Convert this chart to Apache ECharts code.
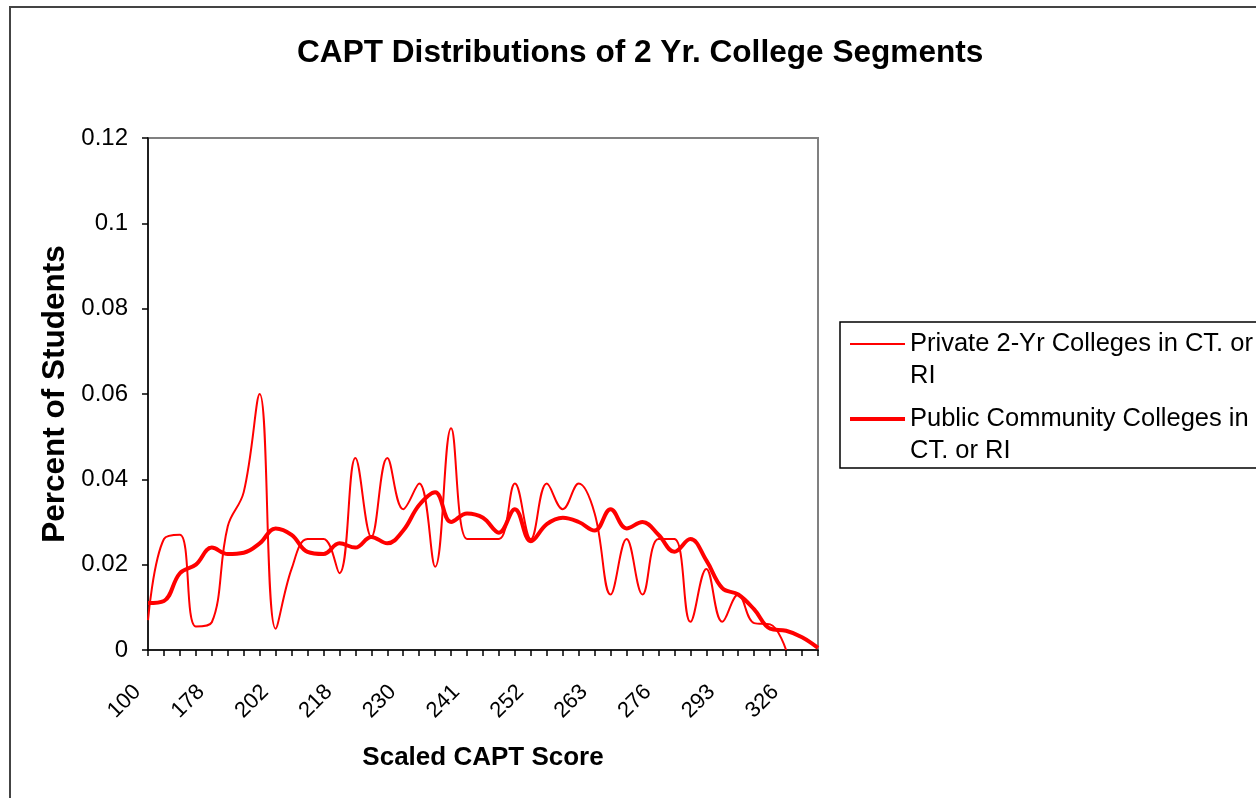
<!DOCTYPE html>
<html>
<head>
<meta charset="utf-8">
<title>CAPT Distributions of 2 Yr. College Segments</title>
<script src="https://cdn.jsdelivr.net/npm/echarts@6.0.0/dist/echarts.min.js"></script>
<style>
  html, body { margin: 0; padding: 0; background: #fff; }
  #chart { width: 1256px; height: 798px; }
</style>
</head>
<body>
<div id="chart"></div>
<script>
// scaled CAPT score categories (only every 4th one is labelled on the axis)
var scores = [100, 150, 160, 170, 178, 184, 190, 196, 202, 206, 210, 214, 218, 221, 224,
  227, 230, 233, 236, 238, 241, 244, 247, 249, 252, 255, 258, 260, 263, 266,
  269, 272, 276, 280, 284, 288, 293, 300, 308, 316, 326, 340, 360];

// share of students per score
var privateColleges = [0.007, 0.026, 0.027, 0.0055, 0.0065, 0.029, 0.037, 0.060, 0.005, 0.019,
  0.026, 0.026, 0.018, 0.045, 0.0265, 0.045, 0.033, 0.039, 0.0195, 0.052,
  0.026, 0.026, 0.026, 0.039, 0.026, 0.039, 0.033, 0.039, 0.032, 0.013,
  0.026, 0.013, 0.026, 0.026, 0.0066, 0.019, 0.0066, 0.013, 0.0063, 0.006,
  0, '-', '-'];
var publicColleges = [0.011, 0.0115, 0.018, 0.020, 0.024, 0.0225, 0.0228, 0.025, 0.0285, 0.027,
  0.023, 0.0225, 0.025, 0.024, 0.0265, 0.025, 0.028, 0.034, 0.037, 0.030,
  0.032, 0.031, 0.0275, 0.033, 0.0255, 0.0295, 0.031, 0.030, 0.028, 0.033,
  0.0285, 0.030, 0.027, 0.023, 0.026, 0.021, 0.0145, 0.013, 0.0095, 0.005,
  0.0045, 0.003, 0.0005];

var seriesNames = ['Private 2-Yr Colleges in CT. or RI', 'Public Community Colleges in CT. or RI'];
var lineWidths = [2, 4];
var legendLines = {
  'Private 2-Yr Colleges in CT. or RI': 'Private 2-Yr Colleges in CT. or\nRI',
  'Public Community Colleges in CT. or RI': 'Public Community Colleges in\nCT. or RI'
};

var yMin = 0, yMax = 0.12, yStep = 0.02;
var font = 'Liberation Sans, Arial, sans-serif';

var myChart = echarts.init(document.getElementById('chart'));
var option = {
  animation: false,
  backgroundColor: '#fff',
  textStyle: { fontFamily: font },
  title: {
    text: 'CAPT Distributions of 2 Yr. College Segments',
    left: 297,
    top: 37,
    padding: 0,
    textStyle: { fontFamily: font, fontSize: 31.6, fontWeight: 'bold', color: '#000' }
  },
  graphic: [
    { // chart area frame
      type: 'rect', silent: true, z: -1,
      shape: { x: 10, y: 7, width: 1400, height: 900 },
      style: { fill: 'none', stroke: '#444', lineWidth: 2 }
    },
    { // legend frame
      type: 'rect', silent: true,
      shape: { x: 840, y: 322, width: 500, height: 146 },
      style: { fill: 'none', stroke: '#000', lineWidth: 1.5 }
    }
  ],
  legend: {
    orient: 'vertical',
    left: 848,
    top: 296,
    padding: 0,
    itemWidth: 55,
    itemHeight: 14,
    itemGap: -21,
    selectedMode: false,
    data: seriesNames.map(function (n, i) {
      return { name: n, lineStyle: { width: lineWidths[i], color: '#ff0000' } };
    }),
    itemStyle: { opacity: 0 },
    formatter: function (name) {
      // blank first line so the line sample sits beside the first text line
      return ' \n' + legendLines[name];
    },
    textStyle: { fontFamily: font, fontSize: 25.5, lineHeight: 32, color: '#000' }
  },
  grid: {
    left: 148,
    top: 138,
    right: 438,
    bottom: 148,
    containLabel: false,
    show: true,
    borderColor: '#808080',
    borderWidth: 2,
    backgroundColor: 'transparent'
  },
  xAxis: {
    type: 'category',
    boundaryGap: false,
    data: scores,
    name: 'Scaled CAPT Score',
    nameLocation: 'middle',
    nameGap: 95,
    nameMoveOverlap: false,
    nameTextStyle: { fontFamily: font, fontSize: 26, fontWeight: 'bold', color: '#000' },
    axisLine: { show: true, lineStyle: { color: '#000', width: 1.5 } },
    axisTick: { show: true, interval: 0, length: 6, lineStyle: { color: '#000', width: 1.5 } },
    axisLabel: {
      interval: 3,
      rotate: 45,
      margin: 28,
      padding: [0, 15, 0, 0],
      fontSize: 22,
      color: '#000',
      fontFamily: font
    },
    splitLine: { show: false }
  },
  yAxis: {
    type: 'value',
    min: yMin,
    max: yMax,
    interval: yStep,
    name: 'Percent of Students',
    nameLocation: 'middle',
    nameRotate: 90,
    nameGap: 60,
    nameMoveOverlap: false,
    nameTextStyle: {
      fontFamily: font, fontSize: 31.5, fontWeight: 'bold', color: '#000',
      backgroundColor: '#fff', padding: [0, 0, 17, 0]
    },
    axisLine: { show: true, lineStyle: { color: '#000', width: 1.5 } },
    axisTick: { show: true, length: 6, lineStyle: { color: '#000', width: 1.5 } },
    axisLabel: { margin: 20, fontSize: 24, color: '#000', fontFamily: font },
    splitLine: { show: false }
  },
  series: [
    {
      name: seriesNames[0],
      type: 'line',
      data: privateColleges,
      smooth: 0.4,
      symbol: 'none',
      color: '#ff0000',
      lineStyle: { color: '#ff0000', width: lineWidths[0] }
    },
    {
      name: seriesNames[1],
      type: 'line',
      data: publicColleges,
      smooth: 0.4,
      symbol: 'none',
      color: '#ff0000',
      lineStyle: { color: '#ff0000', width: lineWidths[1] }
    }
  ]
};
myChart.setOption(option);
</script>
</body>
</html>
